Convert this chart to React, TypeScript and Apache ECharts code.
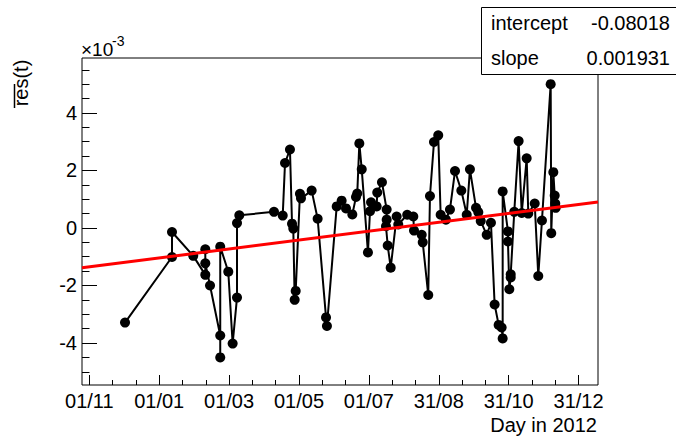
import React, { useEffect, useRef } from "react";
import * as echarts from "echarts";

// Day in 2012 (days since 1 Jan 2012) and mean residual (x 1e-3)
const obsDay = [
  -29.7, 11.2, 11.2, 29.7, 40.2, 40.2, 40.2, 44.3, 53.2, 53.2, 53.2, 60.2, 64.0, 67.8, 67.8, 69.8,
  100.0, 107.6, 109.6, 113.9, 115.7, 116.8, 118.0, 118.9, 122.6, 123.5, 132.8, 138.0, 145.3, 146.1,
  154.6, 158.9, 162.7, 168.2, 171.4, 172.5, 174.3, 176.4, 181.8, 183.6, 184.5, 189.4, 189.9, 194.0,
  198.1, 198.1, 197.5, 199.0, 201.6, 206.8, 208.2, 216.0, 221.3, 221.9, 228.6, 229.5, 234.3, 235.8,
  239.3, 243.0, 245.1, 249.7, 253.2, 257.6, 263.1, 267.8, 270.6, 275.9, 277.9, 280.0, 285.2, 288.9,
  292.1, 295.6, 298.2, 299.1, 299.1, 303.7, 303.7, 304.9, 306.1, 306.1, 309.2, 313.0, 315.7, 320.0,
  321.4, 327.0, 330.1, 333.3, 340.9, 341.4, 343.2, 344.4, 344.9, 345.3,
];
const obsRes = [
  -3.29, -1.01, -0.14, -0.97, -1.63, -0.74, -1.23, -2.0, -3.74, -4.5, -0.65, -1.52, -4.02, -2.42, 0.17, 0.44,
  0.56, 0.43, 2.26, 2.73, 0.15, -0.02, -2.5, -2.19, 1.19, 1.03, 1.3, 0.32, -3.11, -3.41,
  0.75, 0.95, 0.68, 0.47, 1.08, 1.2, 2.94, 2.04, -0.85, 0.58, 0.89, 0.75, 1.23, 1.59,
  0.64, 0.29, 0.06, -0.61, -1.38, 0.4, 0.12, 0.46, 0.4, -0.09, -0.24, -0.5, -2.33, 1.11,
  2.99, 3.22, 0.46, 0.29, 0.64, 1.98, 1.3, 0.46, 2.04, 0.7, 0.55, 0.24, -0.24, 0.18,
  -2.66, -3.37, -3.46, -3.84, 1.27, -0.12, -0.47, -2.13, -1.72, -1.61, 0.56, 3.02, 0.52, 2.42,
  0.5, 0.85, -1.67, 0.26, 5.0, -0.18, 1.94, 1.13, 0.85, 0.7,
];

const xTickDays = [-60.8, 0.06, 60.91, 121.77, 182.63, 243.49, 304.34, 365.2];
const xTickLabels = ["01/11", "01/01", "01/03", "01/05", "01/07", "31/08", "31/10", "31/12"];
const yTickValues = [-4, -2, 0, 2, 4];
const xRange = [-67.16, 382.1];
const yRange = [-5.46, 5.91];

// straight-line fit drawn in red (value at day 0 and change per day, x 1e-3)
const fitAt0 = -1.043;
const fitPerDay = 0.0051;

const statNames = ["intercept", "slope"];
const statValues = ["-0.08018", "0.001931"];

const FONT = "'Liberation Sans', Arial, Helvetica, sans-serif";

export default function App() {
  const ref = useRef<HTMLDivElement>(null);

  useEffect(() => {
    if (!ref.current) return;
    const chart = echarts.init(ref.current, undefined, { renderer: "svg" });

    const xMinor: number[] = [];
    for (let i = 0; i < xTickDays.length - 1; i++) {
      const step = (xTickDays[i + 1] - xTickDays[i]) / 3;
      xMinor.push(xTickDays[i] + step, xTickDays[i] + 2 * step);
    }
    const yMinor: number[] = [];
    for (let v = -5.5; v <= 6.0001; v += 0.5) {
      if (v >= yRange[0] && v <= yRange[1] && !yTickValues.includes(v)) yMinor.push(v);
    }

    const points = obsDay.map((d, i) => [d, obsRes[i]]);
    const fitData = [
      [xRange[0], fitAt0 + fitPerDay * xRange[0]],
      [xRange[1], fitAt0 + fitPerDay * xRange[1]],
    ];

    const baseX = {
      type: "value" as const,
      min: xRange[0],
      max: xRange[1],
      position: "bottom" as const,
      axisLine: { show: false, onZero: false },
      splitLine: { show: false },
    };
    const baseY = {
      type: "value" as const,
      min: yRange[0],
      max: yRange[1],
      position: "left" as const,
      axisLine: { show: false, onZero: false },
      splitLine: { show: false },
    };

    chart.setOption({
      animation: false,
      backgroundColor: "#ffffff",
      grid: {
        left: 82,
        top: 58,
        width: 516,
        height: 327,
        show: true,
        borderColor: "#000",
        borderWidth: 1,
        backgroundColor: "transparent",
      },
      xAxis: [
        {
          ...baseX,
          axisTick: {
            show: true,
            inside: true,
            length: 10,
            customValues: xTickDays,
            lineStyle: { color: "#000", width: 1 },
          },
          axisLabel: {
            show: true,
            customValues: xTickDays,
            margin: 6,
            fontSize: 20,
            color: "#000",
            fontFamily: FONT,
            formatter: (v: number) => {
              let best = 0;
              xTickDays.forEach((t, i) => {
                if (Math.abs(t - v) < Math.abs(xTickDays[best] - v)) best = i;
              });
              return xTickLabels[best];
            },
          },
        },
        {
          ...baseX,
          axisTick: {
            show: true,
            inside: true,
            length: 5,
            customValues: xMinor,
            lineStyle: { color: "#000", width: 1 },
          },
          axisLabel: { show: false },
        },
      ],
      yAxis: [
        {
          ...baseY,
          axisTick: {
            show: true,
            inside: true,
            length: 15,
            customValues: yTickValues,
            lineStyle: { color: "#000", width: 1 },
          },
          axisLabel: {
            show: true,
            customValues: yTickValues,
            margin: 5,
            fontSize: 20,
            color: "#000",
            fontFamily: FONT,
            formatter: (v: number) => String(Math.round(v)),
          },
        },
        {
          ...baseY,
          axisTick: {
            show: true,
            inside: true,
            length: 7.5,
            customValues: yMinor,
            lineStyle: { color: "#000", width: 1 },
          },
          axisLabel: { show: false },
        },
      ],
      series: [
        {
          type: "line",
          xAxisIndex: 0,
          yAxisIndex: 0,
          data: points,
          symbol: "circle",
          symbolSize: 10,
          itemStyle: { color: "#000" },
          lineStyle: { color: "#000", width: 2 },
          z: 2,
        },
        {
          type: "line",
          xAxisIndex: 0,
          yAxisIndex: 0,
          data: fitData,
          symbol: "none",
          lineStyle: { color: "#ff0000", width: 3 },
          z: 3,
        },
      ],
      graphic: [
        {
          type: "text",
          x: 21,
          y: 83,
          rotation: Math.PI / 2,
          z: 100,
          style: {
            text: "res(t)",
            fontSize: 20,
            fontFamily: FONT,
            fill: "#000",
            align: "center",
            verticalAlign: "middle",
          },
        },
        {
          type: "line",
          z: 100,
          shape: { x1: 14.5, y1: 84, x2: 14.5, y2: 108 },
          style: { stroke: "#000", lineWidth: 1.5 },
        },
        {
          type: "text",
          x: 81,
          y: 49,
          z: 100,
          style: {
            text: "×10",
            fontSize: 19,
            fontFamily: FONT,
            fill: "#000",
            align: "left",
            verticalAlign: "middle",
          },
        },
        {
          type: "text",
          x: 112,
          y: 41,
          z: 100,
          style: {
            text: "-3",
            fontSize: 14,
            fontFamily: FONT,
            fill: "#000",
            align: "left",
            verticalAlign: "middle",
          },
        },
        {
          type: "text",
          x: 597,
          y: 425,
          z: 100,
          style: {
            text: "Day in 2012",
            fontSize: 20,
            fontFamily: FONT,
            fill: "#000",
            align: "right",
            verticalAlign: "middle",
          },
        },
        {
          type: "rect",
          z: 100,
          shape: { x: 481.5, y: 7.5, width: 210, height: 67 },
          style: { fill: "#fff", stroke: "#000", lineWidth: 1 },
        },
        ...statNames.map((n, i) => ({
          type: "text",
          x: 491,
          y: 23 + i * 35,
          z: 101,
          style: {
            text: n,
            fontSize: 20,
            fontFamily: FONT,
            fill: "#000",
            align: "left",
            verticalAlign: "middle",
          },
        })),
        ...statValues.map((v, i) => ({
          type: "text",
          x: 670,
          y: 23 + i * 35,
          z: 101,
          style: {
            text: v,
            fontSize: 20,
            fontFamily: FONT,
            fill: "#000",
            align: "right",
            verticalAlign: "middle",
          },
        })),
      ],
    });

    return () => chart.dispose();
  }, []);

  return (
    <div
      ref={ref}
      style={{ position: "fixed", left: 0, top: 0, width: 676, height: 441, background: "#fff" }}
    />
  );
}
